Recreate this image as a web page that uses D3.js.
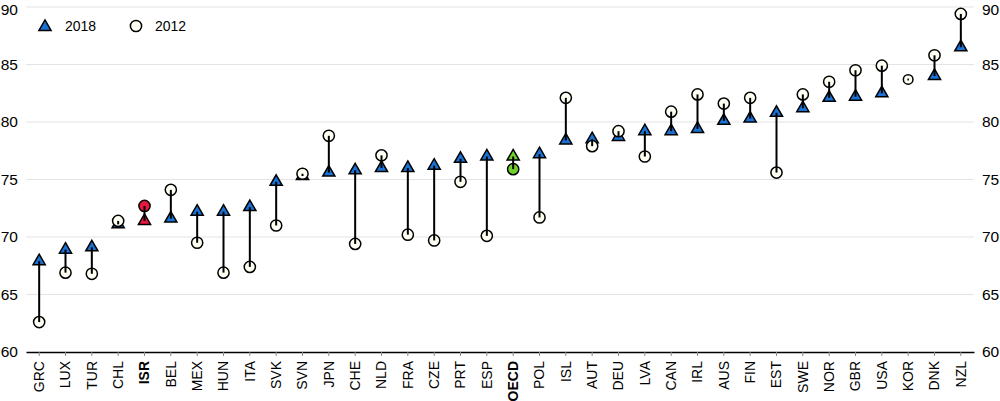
<!DOCTYPE html>
<html>
<head>
<meta charset="utf-8">
<script src="https://cdn.jsdelivr.net/npm/d3@7"></script>
<style>
  html, body { margin: 0; padding: 0; background: #fff; }
  svg { display: block; font-family: "Liberation Sans", Arial, sans-serif; }
</style>
</head>
<body>
<svg id="chart" width="1000" height="401"></svg>
<script>
const countries = ["GRC","LUX","TUR","CHL","ISR","BEL","MEX","HUN","ITA","SVK","SVN","JPN","CHE","NLD","FRA","CZE","PRT","ESP","OECD","POL","ISL","AUT","DEU","LVA","CAN","IRL","AUS","FIN","EST","SWE","NOR","GBR","USA","KOR","DNK","NZL"];
const values2018 = [67.9,68.9,69.1,71.1,71.4,71.6,72.2,72.2,72.6,74.8,75.3,75.6,75.8,76.0,76.0,76.2,76.8,77.0,77.0,77.2,78.4,78.5,78.7,79.2,79.2,79.4,80.1,80.3,80.8,81.2,82.1,82.2,82.5,null,84.0,86.5];
const values2012 = [62.6,66.9,66.8,71.4,72.7,74.1,69.5,66.9,67.4,71.0,75.5,78.8,69.4,77.1,70.2,69.7,74.8,70.1,75.9,71.7,82.1,77.9,79.2,77.0,80.9,82.4,81.6,82.1,75.6,82.4,83.5,84.5,84.9,83.7,85.8,89.4];
const yTicks = [60,65,70,75,80,85,90];
const legendLabels = ["2018","2012"];
const highlight = {"ISR": "#e8173f", "OECD": "#6fd12a"};

const svg = d3.select("#chart");
const x = d3.scaleBand().domain(countries).range([26, 974]).padding(0);
const y = d3.scaleLinear().domain([60, 90]).range([352, 7]);
const cx = c => x(c) + x.bandwidth() / 2;

const blue = "#1a72d4";
const FONT = "Liberation Sans, Arial, sans-serif";

// gridlines
svg.append("g").selectAll("line").data(yTicks.filter(t => t !== 60)).join("line")
  .attr("x1", 26).attr("x2", 974)
  .attr("y1", d => y(d)).attr("y2", d => y(d))
  .attr("stroke", "#e3e3e3").attr("stroke-width", 1);

// left / right axis labels
function styleY(g) {
  g.select(".domain").remove();
  g.selectAll("text").attr("font-size", 15.5).attr("fill", "#000").attr("font-family", FONT)
    .attr("dy", d => d === 90 ? "0.5em" : "0.32em");
}
const gl = svg.append("g").attr("transform", "translate(26,0)")
  .call(d3.axisLeft(y).tickValues(yTicks).tickSize(0).tickPadding(8));
styleY(gl);
const gr = svg.append("g").attr("transform", "translate(974,0)")
  .call(d3.axisRight(y).tickValues(yTicks).tickSize(0).tickPadding(8));
styleY(gr);

// x axis
const xa = d3.axisBottom(x).tickSize(4).tickSizeOuter(0).tickPadding(6);
const gx = svg.append("g").attr("transform", `translate(0,${y(60)})`).call(xa);
gx.select(".domain").attr("stroke", "#000").attr("stroke-width", 1.5);
gx.selectAll(".tick line").attr("stroke", "#888");
gx.selectAll("text")
  .attr("font-size", 14).attr("fill", "#000")
  .attr("font-family", FONT)
  .attr("font-weight", d => (d === "ISR" || d === "OECD") ? "bold" : "normal")
  .attr("transform", "rotate(-90)")
  .attr("text-anchor", "end")
  .attr("x", -9).attr("y", 0).attr("dy", "0.35em");

const data = countries.map((c, i) => ({c, v18: values2018[i], v12: values2012[i]}));
const tri = d3.symbol().type(d3.symbolTriangle).size(64);

// triangles (2018)
svg.append("g").selectAll("path").data(data.filter(d => d.v18 != null)).join("path")
  .attr("d", tri)
  .attr("transform", d => `translate(${cx(d.c)},${y(d.v18)})`)
  .attr("fill", d => highlight[d.c] || blue)
  .attr("stroke", "#000").attr("stroke-width", 1.5).attr("stroke-linejoin", "miter");

// circles (2012)
svg.append("g").selectAll("circle").data(data.filter(d => d.v12 != null)).join("circle")
  .attr("cx", d => cx(d.c)).attr("cy", d => y(d.v12))
  .attr("r", d => d.v18 == null ? 4.8 : 5.6)
  .attr("fill", d => highlight[d.c] || "#fffff4")
  .attr("stroke", "#000").attr("stroke-width", 1.5);

// connecting lines
svg.append("g").selectAll("line").data(data.filter(d => d.v18 != null && d.v12 != null)).join("line")
  .attr("x1", d => cx(d.c)).attr("x2", d => cx(d.c))
  .attr("y1", d => y(d.v12)).attr("y2", d => y(d.v18))
  .attr("stroke", "#000").attr("stroke-width", 2);
// KOR small dot inside circle
svg.append("g").selectAll("line").data(data.filter(d => d.v18 == null)).join("line")
  .attr("x1", d => cx(d.c)).attr("x2", d => cx(d.c))
  .attr("y1", d => y(d.v12) - 1).attr("y2", d => y(d.v12) + 1)
  .attr("stroke", "#000").attr("stroke-width", 1.5);

// legend
const lg = svg.append("g");
lg.append("path").attr("d", tri).attr("transform", "translate(45,27)")
  .attr("fill", blue).attr("stroke", "#000").attr("stroke-width", 1.5);
lg.append("text").attr("x", 65).attr("y", 31).attr("font-size", 14).attr("font-family", FONT).text(legendLabels[0]);
lg.append("circle").attr("cx", 136).attr("cy", 26).attr("r", 5.6)
  .attr("fill", "#fffff4").attr("stroke", "#000").attr("stroke-width", 1.5);
lg.append("text").attr("x", 155).attr("y", 31).attr("font-size", 14).attr("font-family", FONT).text(legendLabels[1]);
</script>
</body>
</html>
